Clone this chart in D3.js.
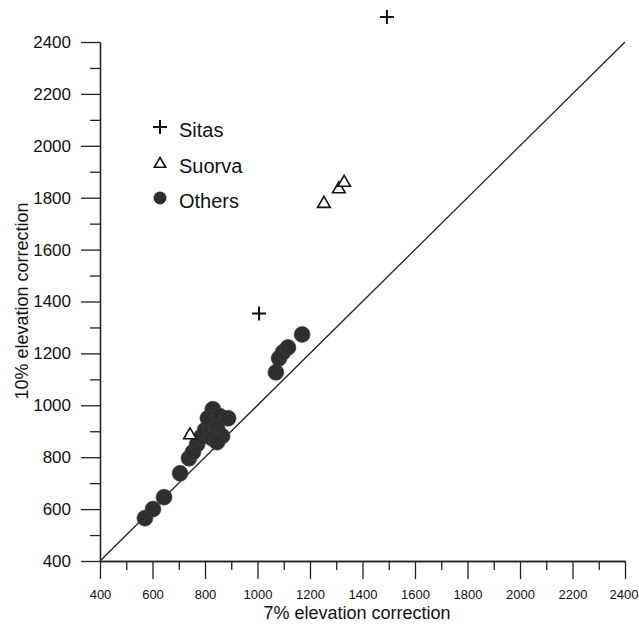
<html>
<head>
  <style>
    body { margin: 0; background: #fff; }
    text { font-family: "Liberation Sans", Arial, sans-serif; }
  </style>
</head>
<body>
<script src="https://d3js.org/d3.v7.min.js"></script>
<script>
  // values: [7% correction, 10% correction]
  var sitas = [[1493, 2496], [1006, 1354]];
  var suorva = [[1253, 1777], [1310, 1833], [1330, 1858], [743, 885]];
  var others = [
    [571, 565], [602, 600], [644, 646], [705, 738], [739, 796], [754, 819],
    [770, 850], [785, 877], [800, 904], [819, 919], [830, 985], [811, 950],
    [857, 958], [888, 950], [846, 912], [865, 881], [827, 873], [846, 858],
    [1070, 1127], [1082, 1181], [1097, 1204], [1116, 1223], [1170, 1273]
  ];
  var majorTicks = d3.range(400, 2401, 200);
  var minorTicks = d3.range(500, 2400, 200);
  var legendItems = ["Sitas", "Suorva", "Others"];

  var width = 639, height = 625;

  var svg = d3.select('body').append('svg')
    .attr('width', width)
    .attr('height', height);

  var x = d3.scaleLinear().domain([400, 2400]).range([100, 625]);
  var y = d3.scaleLinear().domain([400, 2400]).range([561, 42]);

  // x axis: long major ticks with labels, short minor ticks
  var gx = svg.append('g').attr('transform', 'translate(0,' + y(400) + ')');
  gx.call(d3.axisBottom(x).tickValues(majorTicks).tickSize(18).tickPadding(11)
    .tickSizeOuter(0).tickFormat(d3.format('d')));
  gx.append('g').call(d3.axisBottom(x).tickValues(minorTicks).tickSize(9).tickFormat('').tickSizeOuter(0));
  gx.selectAll('text').style('font-size', '13px').attr('fill', '#111');
  // last label sits at the page edge; nudge it in so it stays whole
  gx.selectAll('.tick text').filter(function(d) { return d === 2400; }).attr('dx', -1.5);

  // y axis
  var gy = svg.append('g').attr('transform', 'translate(' + x(400) + ',0)');
  gy.call(d3.axisLeft(y).tickValues(majorTicks).tickSize(19).tickPadding(10)
    .tickSizeOuter(0).tickFormat(d3.format('d')));
  gy.append('g').call(d3.axisLeft(y).tickValues(minorTicks).tickSize(10).tickFormat('').tickSizeOuter(0));
  gy.selectAll('text').style('font-size', '17px').attr('fill', '#111');

  svg.selectAll('.domain, .tick line').attr('stroke', '#222').attr('stroke-width', 1.3);

  // 1:1 line
  svg.append('line')
    .attr('x1', x(400)).attr('y1', y(400))
    .attr('x2', x(2400)).attr('y2', y(2400))
    .attr('stroke', '#222').attr('stroke-width', 1.3);

  // axis titles
  svg.append('text')
    .attr('x', 357).attr('y', 619)
    .attr('text-anchor', 'middle')
    .style('font-size', '18px').attr('fill', '#111')
    .text('7% elevation correction');

  svg.append('text')
    .attr('transform', 'translate(28,' + 301 + ') rotate(-90)')
    .attr('text-anchor', 'middle')
    .style('font-size', '18px').attr('fill', '#111')
    .text('10% elevation correction');

  // Others: dark filled circles
  svg.append('g').selectAll('circle').data(others).enter()
    .append('circle')
    .attr('cx', function(d) { return x(d[0]); })
    .attr('cy', function(d) { return y(d[1]); })
    .attr('r', 8)
    .attr('fill', '#2e2e2e')
    .attr('stroke', '#444').attr('stroke-width', 0.6);

  // Suorva: open triangles
  var tri = d3.symbol().type(d3.symbolTriangle).size(70);
  svg.append('g').selectAll('path').data(suorva).enter()
    .append('path')
    .attr('d', tri)
    .attr('transform', function(d) { return 'translate(' + x(d[0]) + ',' + y(d[1]) + ')'; })
    .attr('fill', '#fff').attr('stroke', '#111').attr('stroke-width', 1.6);

  // Sitas: plus signs
  function plus(g, cx, cy, s) {
    g.append('path')
      .attr('d', 'M' + (cx - s) + ',' + cy + 'H' + (cx + s) + 'M' + cx + ',' + (cy - s) + 'V' + (cy + s))
      .attr('stroke', '#111').attr('stroke-width', 2).attr('fill', 'none');
  }
  var gs = svg.append('g');
  sitas.forEach(function(d) { plus(gs, x(d[0]), y(d[1]), 7); });

  // legend
  var lg = svg.append('g');
  var ly = [127, 163, 198];
  plus(lg, 160, ly[0], 7);
  lg.append('path').attr('d', d3.symbol().type(d3.symbolTriangle).size(55))
    .attr('transform', 'translate(160,' + (ly[1] + 1) + ')')
    .attr('fill', '#fff').attr('stroke', '#111').attr('stroke-width', 1.6);
  lg.append('circle').attr('cx', 160).attr('cy', ly[2]).attr('r', 6.5).attr('fill', '#2e2e2e');
  lg.selectAll('text').data(legendItems).enter()
    .append('text')
    .attr('x', 179)
    .attr('y', function(d, i) { return ly[i] + 10; })
    .style('font-size', '20px').attr('fill', '#111')
    .text(function(d) { return d; });
</script>
</body>
</html>
